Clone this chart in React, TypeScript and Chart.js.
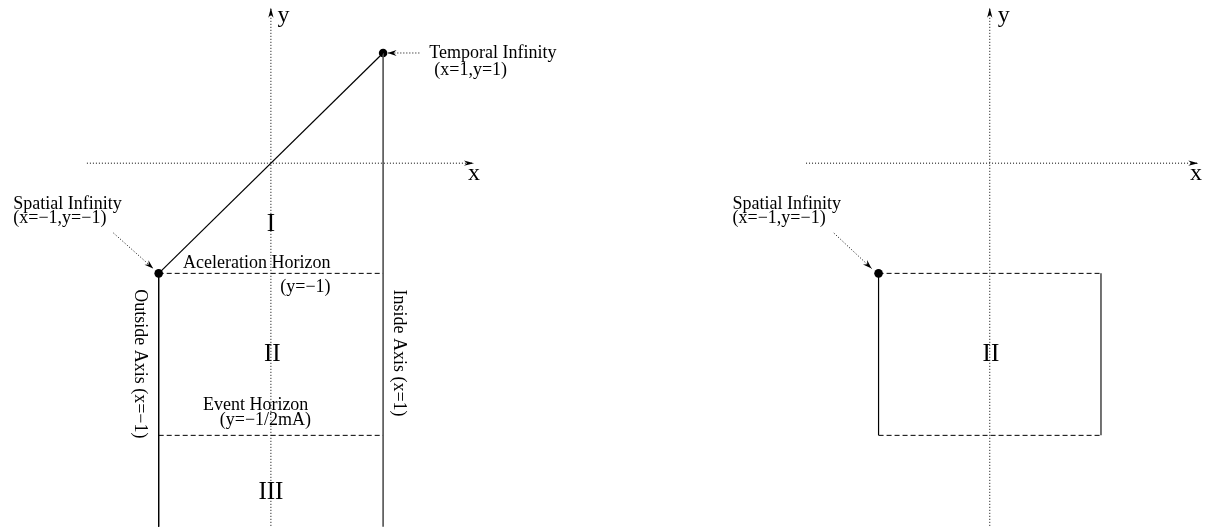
import React, { useEffect, useRef } from "react";
import { Chart, registerables } from "chart.js";
Chart.register(...registerables);

const W = 1214;
const H = 531;

// ---------- Left diagram (data units) ----------
const leftXAxis = [[-1.64, 0], [1.81, 0]];
const leftYAxis = [[0, -3.4], [0, 1.41]];
const leftDiagonal = [[-1, -1], [1, 1]];
const leftInsideAxis = [[1, 1], [1, -3.4]];
const leftOutsideAxis = [[-1, -1], [-1, -3.4]];
const leftAccelHorizon = [[-1, -1], [1, -1]];
const leftEventHorizon = [[-1, -2.47], [1, -2.47]];
const leftDots = [[-1, -1], [1, 1]];
const leftPointers = [
  [[1.323, 1.0], [1.04, 1.0]],
  [[-1.403, -0.634], [-1.049, -0.955]],
];

// ---------- Right diagram (data units) ----------
const rightXAxis = [[-1.652, 0], [1.875, 0]];
const rightYAxis = [[0, -3.4], [0, 1.41]];
const rightOutsideAxis = [[-1, -1], [-1, -2.47]];
const rightInsideAxis = [[1, -1], [1, -2.47]];
const rightAccelHorizon = [[-1, -1], [1, -1]];
const rightEventHorizon = [[-1, -2.47], [1, -2.47]];
const rightDots = [[-1, -1]];
const rightPointers = [[[-1.402, -0.634], [-1.0625, -0.955]]];

// ---------- Text ----------
const leftLabels = [
  { t: "y", x: 0.058, y: 1.277, size: 24, align: "left", rot: 0 },
  { t: "x", x: 1.757, y: -0.152, size: 24, align: "left", rot: 0 },
  { t: "Temporal Infinity", x: 1.412, y: 0.955, size: 18, align: "left", rot: 0 },
  { t: "(x=1,y=1)", x: 1.456, y: 0.804, size: 18, align: "left", rot: 0 },
  { t: "Spatial Infinity", x: -2.296, y: -0.42, size: 18, align: "left", rot: 0 },
  { t: "(x=\u22121,y=\u22121)", x: -2.296, y: -0.545, size: 18, align: "left", rot: 0 },
  { t: "I", x: 0, y: -0.616, size: 25, align: "center", rot: 0 },
  { t: "Aceleration Horizon", x: -0.783, y: -0.955, size: 18, align: "left", rot: 0 },
  { t: "(y=\u22121)", x: 0.084, y: -1.17, size: 18, align: "left", rot: 0 },
  { t: "II", x: 0.013, y: -1.795, size: 25, align: "center", rot: 0 },
  { t: "Event Horizon", x: -0.606, y: -2.241, size: 18, align: "left", rot: 0 },
  { t: "(y=\u22121/2mA)", x: -0.456, y: -2.375, size: 18, align: "left", rot: 0 },
  { t: "III", x: 0, y: -3.045, size: 25, align: "center", rot: 0 },
  { t: "Outside Axis (x=\u22121)", x: -1.17, y: -1.821, size: 18, align: "center", rot: 90 },
  { t: "Inside Axis (x=1)", x: 1.137, y: -1.723, size: 18, align: "center", rot: 90 },
];
const rightLabels = [
  { t: "y", x: 0.071, y: 1.277, size: 24, align: "left", rot: 0 },
  { t: "x", x: 1.8, y: -0.152, size: 24, align: "left", rot: 0 },
  { t: "Spatial Infinity", x: -2.313, y: -0.42, size: 18, align: "left", rot: 0 },
  { t: "(x=\u22121,y=\u22121)", x: -2.313, y: -0.545, size: 18, align: "left", rot: 0 },
  { t: "II", x: 0.01, y: -1.795, size: 25, align: "center", rot: 0 },
];

const FONT = '"Liberation Serif", "Times New Roman", serif';
const DOTTED = [1, 2];
const DASHED = [5, 3];

function line(pts: number[][], xAxisID: string, opts: any = {}) {
  return {
    data: pts.map(([x, y]) => ({ x, y })),
    xAxisID,
    yAxisID: "y",
    showLine: true,
    borderColor: opts.color || "#000",
    borderWidth: opts.width || 1,
    borderDash: opts.dash || [],
    pointRadius: 0,
    fill: false,
  };
}
function dots(pts: number[][], xAxisID: string) {
  return {
    data: pts.map(([x, y]) => ({ x, y })),
    xAxisID,
    yAxisID: "y",
    showLine: false,
    pointRadius: 4.3,
    pointBackgroundColor: "#000",
    pointBorderColor: "#000",
    pointBorderWidth: 0,
  };
}

function arrowHead(ctx: CanvasRenderingContext2D, fx: number, fy: number, tx: number, ty: number, L = 9, w = 2.6) {
  const a = Math.atan2(ty - fy, tx - fx);
  const dx = Math.cos(a), dy = Math.sin(a);
  const px = -dy, py = dx;
  ctx.save();
  ctx.setLineDash([]);
  ctx.fillStyle = "#000";
  ctx.beginPath();
  ctx.moveTo(tx, ty);
  ctx.lineTo(tx - L * dx + w * px, ty - L * dy + w * py);
  ctx.lineTo(tx - (L - 3) * dx, ty - (L - 3) * dy);
  ctx.lineTo(tx - L * dx - w * px, ty - L * dy - w * py);
  ctx.closePath();
  ctx.fill();
  ctx.restore();
}

const overlay = {
  id: "overlay",
  afterDatasetsDraw(chart: any) {
    const ctx: CanvasRenderingContext2D = chart.ctx;
    const ys = chart.scales.y;
    const panels = [
      { xs: chart.scales.x, labels: leftLabels, pointers: leftPointers, axes: [leftXAxis, leftYAxis] },
      { xs: chart.scales.x2, labels: rightLabels, pointers: rightPointers, axes: [rightXAxis, rightYAxis] },
    ];
    for (const p of panels) {
      const X = (v: number) => p.xs.getPixelForValue(v);
      const Y = (v: number) => ys.getPixelForValue(v);
      for (const ax of p.axes) {
        arrowHead(ctx, X(ax[0][0]), Y(ax[0][1]), X(ax[1][0]), Y(ax[1][1]), 10, 2.6);
      }
      for (const [a, b] of p.pointers) {
        ctx.save();
        ctx.strokeStyle = "#000";
        ctx.lineWidth = 1;
        ctx.setLineDash(DOTTED);
        ctx.beginPath();
        ctx.moveTo(X(a[0]), Y(a[1]));
        ctx.lineTo(X(b[0]), Y(b[1]));
        ctx.stroke();
        ctx.restore();
        arrowHead(ctx, X(a[0]), Y(a[1]), X(b[0]), Y(b[1]), 9, 3);
      }
      for (const l of p.labels) {
        ctx.save();
        ctx.fillStyle = "#000";
        ctx.font = `${l.size}px ${FONT}`;
        ctx.translate(X(l.x), Y(l.y));
        if (l.rot) {
          ctx.rotate((l.rot * Math.PI) / 180);
          ctx.textAlign = "center";
          ctx.textBaseline = "middle";
        } else {
          ctx.textAlign = l.align as CanvasTextAlign;
          ctx.textBaseline = "alphabetic";
        }
        ctx.fillText(l.t, 0, 0);
        ctx.restore();
      }
    }
  },
};

export default function App() {
  const ref = useRef<HTMLCanvasElement | null>(null);
  useEffect(() => {
    if (!ref.current) return;
    const chart = new Chart(ref.current, {
      type: "scatter",
      data: {
        datasets: [
          line(leftXAxis, "x", { dash: DOTTED }),
          line(leftYAxis, "x", { dash: DOTTED }),
          line(leftDiagonal, "x", { width: 1.2 }),
          line(leftInsideAxis, "x", { color: "rgb(80,80,80)", width: 1.6 }),
          line(leftOutsideAxis, "x"),
          line(leftAccelHorizon, "x", { dash: DASHED }),
          line(leftEventHorizon, "x", { dash: DASHED }),
          dots(leftDots, "x"),
          line(rightXAxis, "x2", { dash: DOTTED }),
          line(rightYAxis, "x2", { dash: DOTTED }),
          line(rightOutsideAxis, "x2", { width: 1.2 }),
          line(rightInsideAxis, "x2", { color: "rgb(80,80,80)", width: 1.6 }),
          line(rightAccelHorizon, "x2", { dash: DASHED }),
          line(rightEventHorizon, "x2", { dash: DASHED }),
          dots(rightDots, "x2"),
        ] as any,
      },
      options: {
        animation: false,
        responsive: false,
        devicePixelRatio: 1,
        events: [],
        layout: { padding: 0 },
        plugins: { legend: { display: false }, tooltip: { enabled: false }, title: { display: false } },
        scales: {
          x: { type: "linear", axis: "x", display: false, min: -268.5 / 113, max: (W - 268.5) / 113 },
          x2: { type: "linear", axis: "x", display: false, min: -992.5 / 112, max: (W - 992.5) / 112 },
          y: { type: "linear", display: false, min: (161.5 - H) / 112, max: 161.5 / 112 },
        } as any,
      },
      plugins: [overlay],
    });
    return () => chart.destroy();
  }, []);
  return (
    <canvas
      ref={ref}
      width={W}
      height={H}
      style={{ position: "absolute", left: 0, top: 0, width: W, height: H, display: "block", background: "#fff" }}
    />
  );
}
